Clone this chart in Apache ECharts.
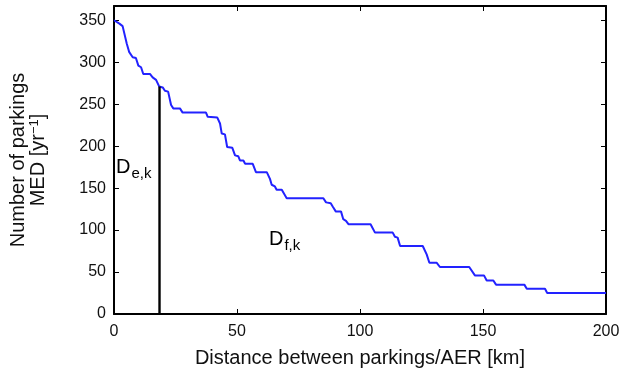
<!DOCTYPE html>
<html><head><meta charset="utf-8">
<script src="https://cdn.jsdelivr.net/npm/echarts@6/dist/echarts.min.js"></script>
<style>html,body{margin:0;padding:0;background:#fff}#c{width:624px;height:380px}</style>
</head><body><div id="c"></div>
<script>
const distX = [0, 2.2, 3.5, 4.0, 5.2, 6.2, 7.6, 8.9, 9.9, 11, 11.9, 14.6, 15.7, 17.1, 18.4, 19.8, 20.7, 22, 23.2, 24.1, 26.8, 27.9, 37.4, 38.1, 42, 43.1, 43.8, 45.1, 46, 48.1, 49.2, 50.5, 51.2, 52.6, 53.3, 56.4, 57.7, 62.1, 63.4, 64.1, 65.4, 66.1, 68.2, 70.2, 85.1, 86.2, 88.1, 88.9, 90.2, 92.3, 93.2, 94.3, 95.3, 104.3, 106.1, 113.3, 114.2, 115.3, 116.3, 125.5, 127.1, 128.2, 131.2, 132.5, 144.4, 146.7, 150.4, 151.5, 154.2, 155.3, 166.8, 167.8, 175.2, 176.1, 200];
const parkings = [350, 346, 343, 342, 322, 312, 306, 305, 296, 294, 286, 286, 282, 279, 271, 270, 266, 265, 249, 245, 245, 240, 240, 235, 234, 227, 215, 214, 199, 198, 189, 188, 183, 183, 179, 179, 169, 169, 161, 154, 152, 148, 148, 138, 138, 133, 132, 128, 122, 122, 113, 111, 107, 107, 97, 97, 92, 91, 81, 81, 71, 61, 61, 56, 56, 46, 46, 40, 40, 35, 35, 30, 30, 25, 25];
const splitX = [18.5, 18.5];
const splitY = [0, 271];
const xTicks = [0, 50, 100, 150, 200];
const yTicks = [0, 50, 100, 150, 200, 250, 300, 350];

const F = 'Liberation Sans, Arial, Helvetica, sans-serif';
const chart = echarts.init(document.getElementById('c'), null, {renderer: 'canvas'});
const axLine = {show: true, onZero: false, lineStyle: {color: '#000', width: 2}};
const axTick = {show: true, inside: true, length: 5, lineStyle: {color: '#000', width: 1}};
chart.setOption({
  animation: false,
  grid: {left: 114, right: 18, top: 6, bottom: 66, containLabel: false},
  xAxis: [{
    type: 'value', min: 0, max: 200, interval: 50, position: 'bottom',
    axisLine: axLine, axisTick: axTick, splitLine: {show: false},
    axisLabel: {color: '#111', fontFamily: F, fontSize: 16, margin: 10,
      formatter: v => xTicks.includes(v) ? String(v) : ''},
    name: 'Distance between parkings/AER [km]', nameLocation: 'middle', nameGap: 34,
    nameTextStyle: {color: '#111', fontFamily: F, fontSize: 20}
  }, {
    type: 'value', min: 0, max: 200, interval: 50, position: 'top',
    axisLine: axLine, axisTick: axTick, axisLabel: {show: false}, splitLine: {show: false}
  }],
  yAxis: [{
    type: 'value', min: 0, max: 367, interval: 50, position: 'left',
    axisLine: axLine, axisTick: axTick, splitLine: {show: false},
    axisLabel: {color: '#111', fontFamily: F, fontSize: 16, margin: 8,
      formatter: v => yTicks.includes(v) ? String(v) : ''},
    name: '{a|Number of parkings}\n{a|MED [yr}{s|−1}{a|]}', nameLocation: 'middle', nameGap: 66,
    nameTextStyle: {color: '#111', fontFamily: F, fontSize: 20, lineHeight: 20,
      rich: {
        a: {fontFamily: F, fontSize: 20, color: '#111', lineHeight: 20},
        s: {fontFamily: F, fontSize: 13, color: '#111', verticalAlign: 'top', lineHeight: 14}
      }}
  }, {
    type: 'value', min: 0, max: 367, interval: 50, position: 'right',
    axisLine: axLine, axisTick: axTick, axisLabel: {show: false}, splitLine: {show: false}
  }],
  series: [{
    type: 'line', xAxisIndex: 0, yAxisIndex: 0, symbol: 'none',
    data: distX.map((x, i) => [x, parkings[i]]),
    lineStyle: {color: '#2222ff', width: 2}
  }, {
    type: 'line', xAxisIndex: 0, yAxisIndex: 0, symbol: 'none',
    data: splitX.map((x, i) => [x, splitY[i]]),
    lineStyle: {color: '#000', width: 2.4}
  }],
  graphic: [{
    type: 'text', left: 116, top: 157,
    style: {text: '{d|D}{s|e,k}', fontFamily: F,
      rich: {d: {fontSize: 20, fontFamily: F, fill: '#000'}, s: {fontSize: 15, fontFamily: F, fill: '#000', verticalAlign: 'bottom', padding: [14, 0, 0, 1]}}}
  }, {
    type: 'text', left: 269, top: 229,
    style: {text: '{d|D}{s|f,k}', fontFamily: F,
      rich: {d: {fontSize: 20, fontFamily: F, fill: '#000'}, s: {fontSize: 15, fontFamily: F, fill: '#000', verticalAlign: 'bottom', padding: [14, 0, 0, 1]}}}
  }]
});
</script></body></html>
